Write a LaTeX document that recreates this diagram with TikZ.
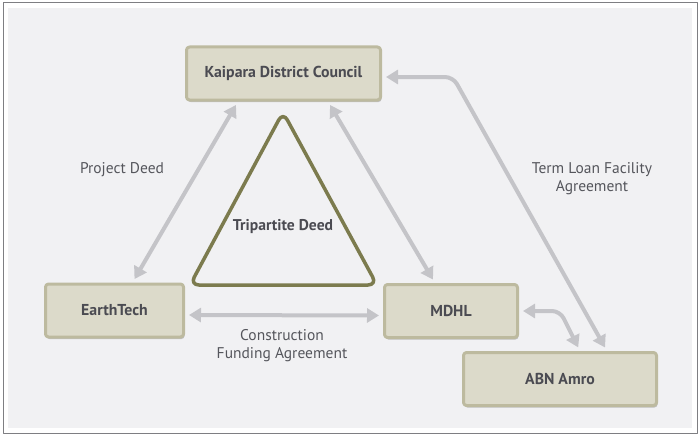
\documentclass[tikz,border=0pt]{standalone}
\usepackage{fontspec}
\setmainfont{PT Sans}
\usetikzlibrary{arrows.meta,shadows}
\definecolor{framegray}{HTML}{7E7E82}
\definecolor{bgfill}{HTML}{F1F1F3}
\definecolor{boxfill}{HTML}{DCDACA}
\definecolor{boxline}{HTML}{BDBA9F}
\definecolor{boxtext}{HTML}{4B4B52}
\definecolor{lbltext}{HTML}{55565C}
\definecolor{linkgray}{HTML}{C4C4C8}
\definecolor{deedolive}{HTML}{7C7B4E}
\begin{document}
\begin{tikzpicture}[x=1pt, y=-1pt, line join=round, line cap=round, >={Triangle[width=14pt,length=12pt]}]
			\tikzset{box/.style={draw=boxline, line width=3pt, fill=boxfill, rounded corners=3pt,
					minimum height=53pt, text=boxtext, font=\bfseries\fontsize{15.8}{18}\selectfont,
					drop shadow={shadow xshift=1pt, shadow yshift=-2pt, fill=black, opacity=.2}},
				link/.style={<->, draw=linkgray, line width=4pt, shorten <=4pt, shorten >=4pt},
				lbl/.style={text=lbltext, align=center, font=\fontsize{15.5}{18}\selectfont}
			}
			\useasboundingbox (0,0) rectangle (700,436);
			\draw[framegray, fill=white, line width=1pt] (3,3) rectangle (697,433);
			\fill[bgfill] (8,8) rectangle (692,428);
			% parties
			\foreach \n/\x/\y/\w/\t in {kdc/283.5/73.5/194/Kaipara District Council,
				earth/114.5/310.5/138/EarthTech, mdhl/451/311/133/MDHL, abn/560/379/193/ABN Amro}
				\node[box, minimum width=\w pt] (\n) at (\x,\y) {\t};
			% tripartite deed
			\draw[deedolive, line width=3.5pt, rounded corners=9pt] (283,112) -- (377,285) -- (190,285) -- cycle;
			\node[text=boxtext, font=\bfseries\fontsize{15.6}{18}\selectfont] (tri) at (283,227) {Tripartite Deed};
			% agreements
			\draw[link] ([xshift=18pt]earth.north) -- ([xshift=-45.5pt]kdc.south);
			\draw[link] ([xshift=44.5pt]kdc.south) -- ([xshift=-16pt]mdhl.north);
			\draw[link] ([yshift=-4.5pt]earth.east) -- ([yshift=-4.5pt]mdhl.west);
			\coordinate (tlf) at (453,77);
			\coordinate (mab) at (560,311);
			\draw[link, rounded corners=8pt] ([yshift=-3.5pt]kdc.east) -- (tlf) -- ([xshift=47pt]abn.north);
			\draw[link, rounded corners=8pt] (mdhl.east) -- (mab) -- ([xshift=20pt]abn.north);
			\node[lbl] (pdl) at (122,170) {Project Deed};
			\node[lbl] (cfl) at (282,346) {Construction\\Funding Agreement};
			\node[lbl] (tll) at (592,178.5) {Term Loan Facility\\Agreement};
		\end{tikzpicture}
\end{document}
